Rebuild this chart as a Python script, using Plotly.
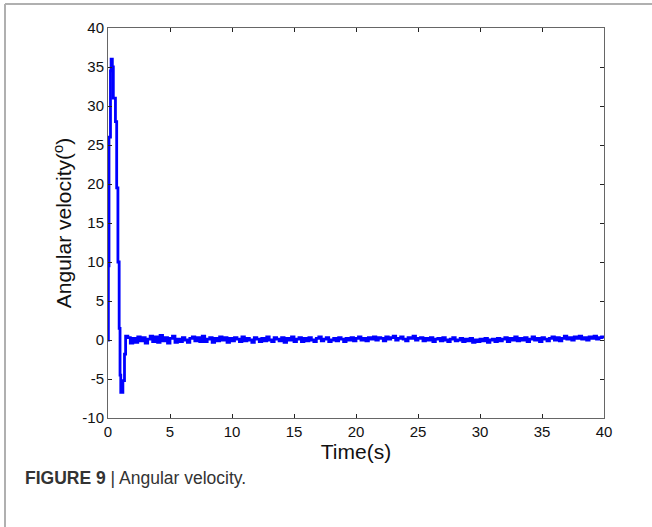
import plotly.graph_objects as go

# Transient part (time in s, angular velocity in deg)
trans_t = [0, 0.03, 0.08, 0.2, 0.25, 0.35, 0.43, 0.6, 0.7, 0.8, 0.9, 0.97, 1.03, 1.2, 1.33, 1.42]
trans_v = [0, 9.5, 26, 34.5, 36, 35, 31, 28, 19.5, 10, 1.5, -4.5, -6.7, -5.2, -1.8, 0.5]

# Steady-state noise, sampled every 0.2 s from 1.6 s to 40 s
noise_start = 1.6
noise_step = 0.2
noise_v = [
    0.3, -0.4, 0.2, -0.3, 0.4, -0.1, 0.3, -0.4, 0.1, 0.5,
    -0.2, 0.4, -0.3, 0.6, -0.1, 0.3, -0.4, 0.2, 0.5, -0.3,
    0.1, -0.2, 0.3, 0.0, -0.3, 0.2, 0.4, -0.1, 0.3, -0.2,
    0.5, -0.2, 0.1, 0.3, -0.3, 0.2, -0.1, 0.4, 0.0, 0.3,
    -0.3, 0.2, -0.1, 0.3, 0.1, -0.2, 0.4, -0.1, 0.2, 0.0,
    -0.3, 0.3, 0.1, -0.2, 0.2, -0.1, 0.4, 0.0, -0.2, 0.3,
    0.1, -0.1, 0.3, -0.3, 0.2, 0.0, 0.4, -0.2, 0.1, 0.3,
    -0.2, 0.2, -0.1, 0.3, 0.0, -0.2, 0.2, 0.4, -0.1, 0.1,
    0.3, -0.2, 0.0, 0.2, -0.1, 0.3, 0.1, -0.2, 0.2, 0.0,
    0.3, -0.1, 0.2, 0.4, 0.0, 0.2, -0.1, 0.3, 0.1, 0.4,
    0.0, 0.3, 0.2, -0.1, 0.4, 0.1, 0.3, 0.5, 0.0, 0.2,
    0.4, 0.1, -0.1, 0.3, 0.2, 0.5, 0.0, 0.2, 0.3, -0.1,
    0.2, 0.0, 0.3, -0.2, 0.1, 0.2, -0.1, 0.3, 0.0, -0.2,
    0.1, 0.3, -0.1, 0.0, 0.2, -0.2, 0.1, -0.1, 0.2, -0.3,
    0.0, -0.2, 0.1, -0.1, 0.2, -0.3, 0.0, 0.1, -0.2, 0.2,
    -0.1, 0.1, 0.3, -0.2, 0.2, 0.0, 0.4, -0.1, 0.2, 0.0,
    0.3, -0.2, 0.1, 0.4, 0.0, 0.2, -0.2, 0.3, 0.1, -0.1,
    0.2, 0.4, 0.0, 0.3, -0.1, 0.2, 0.5, 0.1, 0.3, 0.0,
    0.4, 0.2, 0.5, 0.1, 0.3, 0.0, 0.4, 0.2, 0.5, 0.1,
    0.3, 0.4, 0.2,
]
noise_t = [round(noise_start + noise_step * i, 2) for i in range(len(noise_v))]

x_ticks = [0, 5, 10, 15, 20, 25, 30, 35, 40]
x_ticktext = ["0", "5", "10", "15", "20", "25", "30", "35", "40"]
y_ticks = [-10, -5, 0, 5, 10, 15, 20, 25, 30, 35, 40]
y_ticktext = ["-10", "-5", "0", "5", "10", "15", "20", "25", "30", "35", "40"]

x_title = "Time(s)"
y_title = "Angular velocity(<sup>o</sup>)"
caption_bold = "FIGURE 9"
caption_rest = " | Angular velocity."

t_all = trans_t + noise_t
v_all = trans_v + noise_v

fig = go.Figure()
fig.add_trace(go.Scatter(
    x=t_all, y=v_all, mode="lines",
    line=dict(color="#0000ff", width=2.8, shape="hv"),
    showlegend=False, hoverinfo="skip",
))

L, R, T, B = 108, 48, 28, 109
W, H = 652, 527
pw, ph = W - L - R, H - T - B

def px(xp):
    return (xp - L) / pw

def py(yp):
    return (H - B - yp) / ph

axis_common = dict(
    showline=True, linecolor="#666666", linewidth=1, mirror="ticks",
    ticks="inside", ticklen=4, tickcolor="#222222", showgrid=False,
    zeroline=False, tickfont=dict(family="Liberation Sans, Arial", size=15, color="#111111"),
)

fig.update_layout(
    width=W, height=H,
    margin=dict(l=L, r=R, t=T, b=B),
    paper_bgcolor="white", plot_bgcolor="white",
    xaxis=dict(range=[0, 40], tickvals=x_ticks, ticktext=x_ticktext,
               title=dict(text=x_title, font=dict(family="Liberation Sans, Arial", size=21, color="#111111"), standoff=5),
               **axis_common),
    yaxis=dict(range=[-10, 40], tickvals=y_ticks, ticktext=y_ticktext,
               title=dict(text=y_title, font=dict(family="Liberation Sans, Arial", size=21, color="#111111"), standoff=4),
               **axis_common),
    shapes=[
        dict(type="line", xref="paper", yref="paper", x0=px(5), x1=px(660), y0=py(4), y1=py(4),
             line=dict(color="#b0b0b0", width=2)),
        dict(type="line", xref="paper", yref="paper", x0=px(5), x1=px(5), y0=py(4), y1=py(540),
             line=dict(color="#b0b0b0", width=2)),
    ],
    annotations=[
        dict(xref="paper", yref="paper", x=px(23), y=py(478), xanchor="left", yanchor="middle",
             showarrow=False,
             text="<b>" + caption_bold + "</b>" + caption_rest,
             font=dict(family="Liberation Sans, Arial", size=17.5, color="#333333")),
    ],
)

fig.write_html("out.html", config={"displayModeBar": False},
               post_script="document.body.style.margin='0';document.body.style.overflow='hidden';")
